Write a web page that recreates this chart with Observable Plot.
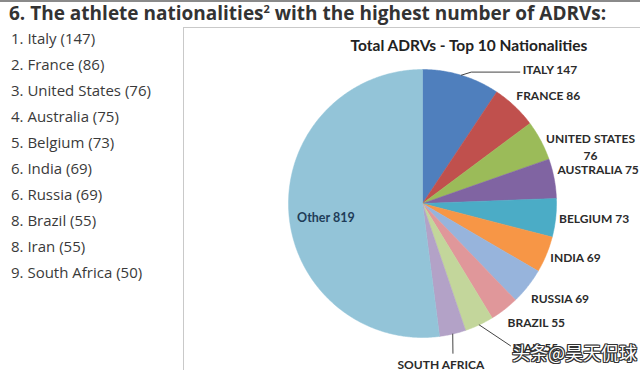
<!DOCTYPE html>
<html><head><meta charset="utf-8">
<script src="https://cdn.jsdelivr.net/npm/d3@7"></script>
<script src="https://cdn.jsdelivr.net/npm/@observablehq/plot@0.6"></script>
<style>
html,body{margin:0;padding:0;background:#fff;width:640px;height:370px;overflow:hidden}
body{position:relative}
#topbar{position:absolute;left:0;top:0;width:640px;height:2px;background:#8a8a8a}
#title{position:absolute;left:9px;top:0;height:24px;line-height:24px;font:700 19px "Open Sans";color:#333;white-space:nowrap}
#title sup{font-size:11px;line-height:0}
#list{position:absolute;left:11px;top:25px;font:15px "Open Sans";color:#3a3a3a}
#list div{height:26px;line-height:26px;white-space:nowrap}
#box{position:absolute;left:183px;top:27px;width:470px;height:360px;border-left:1.5px solid #c9c9c9;border-top:1.5px solid #c9c9c9}
#chart{position:absolute;left:183px;top:27px}
#wm{position:absolute;left:512px;top:339px;font:18px "Noto Sans CJK SC";color:#fff;white-space:nowrap;
text-shadow:1px 0 0 #333,-1px 0 0 #333,0 1px 0 #333,0 -1px 0 #333,1px 1px 0 #333,-1px -1px 0 #333,1px -1px 0 #333,-1px 1px 0 #333}
</style></head>
<body>
<div id="topbar"></div>
<div id="title">6. The athlete nationalities<sup>2</sup> with the highest number of ADRVs:</div>
<div id="list"></div>
<div id="box"></div>
<div id="chart"></div>
<div id="wm">头条@昊天侃球</div>
<script>
// ---- data ----
const names = ["Italy","France","United States","Australia","Belgium","India","Russia","Brazil","Iran","South Africa","Other"];
const values = [147,86,76,75,73,69,69,55,55,50,819];
const ranks = [1,2,3,4,5,6,6,8,8,9];
const sliceLabels = ["ITALY 147","FRANCE 86","UNITED STATES\n76","AUSTRALIA 75","BELGIUM 73","INDIA 69","RUSSIA 69","BRAZIL 55","IRAN 55","SOUTH AFRICA\n50","Other 819"];
const chartTitle = "Total ADRVs - Top 10 Nationalities";

// ---- styles / layout ----
const colors = ["#4f7fbd","#c0504d","#9bbb59","#8064a2","#4bacc6","#f79646","#97b4dc","#e0979a","#c3d69b","#b3a2c7","#93c4d8"];
const R = 134; // pixel radius
// label nudges in pixels: [dx, dy, anchor, leader end dx, leader end dy, elbow dx]
const nudges = {
  "Italy":[60,0,"start",-3,2,10],
  "France":[-2,-6,"start"],
  "United States":[45,8,"middle"],
  "Australia":[-2,-7,"start"],
  "Belgium":[-2,1,"start"],
  "India":[-1,2,"start"],
  "Russia":[-1,9,"start"],
  "Brazil":[0,9,"start"],
  "Iran":[31,18,"start",-2,-2],
  "South Africa":[-13,18,"top",12,-4],
  "Other":[1,8,"middle"]
};

// left list
document.getElementById("list").innerHTML = names.slice(0,10)
  .map((n,i)=>`<div>${ranks[i]}. ${n} (${values[i]})</div>`).join("");

const rows = names.map((n,i)=>({name:n, value:values[i], label:sliceLabels[i]}));
const arcs = d3.pie().sort(null).value(d=>d.value)(rows);

// slice polygons in unit coordinates (clockwise from 12 o'clock)
const pts = [];
for (const a of arcs) {
  const n = Math.max(2, Math.ceil((a.endAngle - a.startAngle) / (Math.PI/360)));
  pts.push({name:a.data.name, x:0, y:0});
  for (let k=0;k<=n;k++){
    const t = a.startAngle + (a.endAngle-a.startAngle)*k/n;
    pts.push({name:a.data.name, x:Math.sin(t), y:Math.cos(t)});
  }
  pts.push({name:a.data.name, x:0, y:0});
}

// labels
const labs = arcs.map(a=>{
  const m = (a.startAngle+a.endAngle)/2;
  const nd = nudges[a.data.name];
  const r = a.data.name === "Other" ? 0.73 : 1.04;
  const x = r*Math.sin(m) + nd[0]/R, y = r*Math.cos(m) - nd[1]/R;
  return {name:a.data.name, text:a.data.label, x, y, anchor:nd[2], m, nd};
});
const leaders = [];
for (const l of labs) {
  if (l.nd.length > 3) {
    const ex = Math.sin(l.m), ey = Math.cos(l.m);
    const tx = l.x + l.nd[3]/R, ty = l.y - l.nd[4]/R;
    leaders.push({name:l.name, x:ex, y:ey});
    if (l.nd[5]) leaders.push({name:l.name, x:ex + l.nd[5]/R, y:ty});
    leaders.push({name:l.name, x:tx, y:ty});
  }
}

const cx = 239, cy = 176;
const txt = {fontFamily:"Lato", fontWeight:"bold", fontSize:12, fill:"#2b2b2b"};
const plot = Plot.plot({
  width: 457, height: 343, margin: 0,
  style: {background:"transparent", overflow:"visible"},
  x: {domain:[-1,1], range:[cx-R, cx+R], axis:null},
  y: {domain:[-1,1], range:[cy+R, cy-R], axis:null},
  color: {domain:names, range:colors},
  marks: [
    Plot.line(pts, {x:"x", y:"y", z:"name", fill:"name", stroke:"name", strokeWidth:0.5, curve:"linear"}),
    Plot.line(leaders, {x:"x", y:"y", z:"name", stroke:"#444", strokeWidth:1}),
    Plot.text(labs.filter(d=>d.anchor==="start"), {x:"x", y:"y", text:"text", textAnchor:"start", ...txt}),
    Plot.text(labs.filter(d=>d.anchor==="middle" && d.name!=="Other"), {x:"x", y:"y", text:"text", textAnchor:"middle", lineHeight:1.4, ...txt}),
    Plot.text(labs.filter(d=>d.anchor==="top"), {x:"x", y:"y", text:"text", textAnchor:"middle", lineAnchor:"top", lineHeight:1.4, ...txt}),
    Plot.text(labs.filter(d=>d.name==="Other"), {x:"x", y:"y", text:"text", textAnchor:"middle", ...txt, fontSize:12.5, fill:"#1f3d58"}),
    Plot.text([chartTitle], {frameAnchor:"top", dx:57, dy:12, fontFamily:"Lato", fontWeight:"bold", fontSize:15.5, fill:"#222"})
  ]
});
document.getElementById("chart").appendChild(plot);
</script>
</body></html>
